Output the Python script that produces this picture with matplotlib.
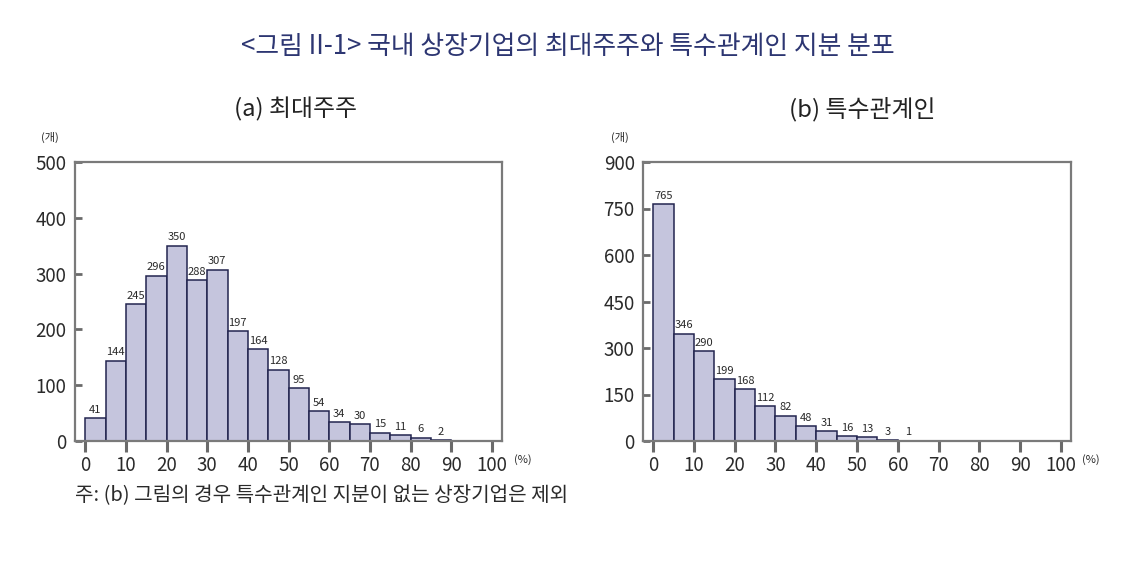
import numpy as np
import matplotlib.pyplot as plt

plt.rcParams['font.family'] = ['Noto Sans CJK KR', 'DejaVu Sans']

# data: bin edges in %, counts per 5%p bin
bins_a = [0, 5, 10, 15, 20, 25, 30, 35, 40, 45, 50, 55, 60, 65, 70, 75, 80, 85]
counts_a = [41, 144, 245, 296, 350, 288, 307, 197, 164, 128, 95, 54, 34, 30, 15, 11, 6, 2]
bins_b = [0, 5, 10, 15, 20, 25, 30, 35, 40, 45, 50, 55, 60]
counts_b = [765, 346, 290, 199, 168, 112, 82, 48, 31, 16, 13, 3, 1]

xticks = list(range(0, 101, 10))
yticks_a = [0, 100, 200, 300, 400, 500]
yticks_b = [0, 150, 300, 450, 600, 750, 900]

title = '<그림 II-1> 국내 상장기업의 최대주주와 특수관계인 지분 분포'
sub_a = '(a) 최대주주'
sub_b = '(b) 특수관계인'
note = '주: (b) 그림의 경우 특수관계인 지분이 없는 상장기업은 제외'

bar_fill = '#c5c5dd'
bar_edge = '#23254f'
spine_col = '#7a7a7a'
txt_col = '#2a2a2a'
navy = '#2d3672'

W, H = 1139, 565
fig = plt.figure(figsize=(W / 100, H / 100), dpi=100)


def px_axes(x0, y0, x1, y1):
    return fig.add_axes([x0 / W, 1 - y1 / H, (x1 - x0) / W, (y1 - y0) / H])


def draw_hist(ax, bins, counts, yticks):
    ax.bar(bins, counts, width=5, align='edge', color=bar_fill,
           edgecolor=bar_edge, linewidth=1.1, zorder=2)
    for b, c in zip(bins, counts):
        ax.text(b + 2.5, c + yticks[-1] * 0.012, str(c), ha='center', va='bottom',
                fontsize=8, color=txt_col)
    ax.set_xlim(-2.5, 102.5)
    ax.set_ylim(0, yticks[-1])
    ax.set_xticks(xticks)
    ax.set_yticks(yticks)
    for s in ax.spines.values():
        s.set_color(spine_col)
        s.set_linewidth(1.6)
    ax.tick_params(axis='x', direction='out', length=8, width=2.2, color='#6a6a6a',
                   labelsize=13.5, labelcolor=txt_col, pad=2)
    ax.tick_params(axis='y', direction='in', length=5, width=2, color='#6a6a6a',
                   labelsize=13.5, labelcolor=txt_col, pad=6)


ax1 = px_axes(75, 162, 502, 441)
draw_hist(ax1, bins_a, counts_a, yticks_a)
ax2 = px_axes(643, 162, 1071, 441)
draw_hist(ax2, bins_b, counts_b, yticks_b)

fig.text(568 / W, 1 - 47 / H, title, ha='center', va='center', fontsize=18.6, color=navy)
fig.text(295 / W, 1 - 109 / H, sub_a, ha='center', va='center', fontsize=17.2, color='#222222')
fig.text(862 / W, 1 - 109 / H, sub_b, ha='center', va='center', fontsize=17.2, color='#222222')
fig.text(50 / W, 1 - 137 / H, '(개)', ha='center', va='center', fontsize=8, color=txt_col)
fig.text(620 / W, 1 - 137 / H, '(개)', ha='center', va='center', fontsize=8, color=txt_col)
fig.text(523 / W, 1 - 460 / H, '(%)', ha='center', va='center', fontsize=8, color=txt_col)
fig.text(1091 / W, 1 - 460 / H, '(%)', ha='center', va='center', fontsize=8, color=txt_col)
fig.text(75 / W, 1 - 496 / H, note, ha='left', va='center', fontsize=14.5, color=txt_col)

fig.savefig('out.png', dpi=100, facecolor='white')
